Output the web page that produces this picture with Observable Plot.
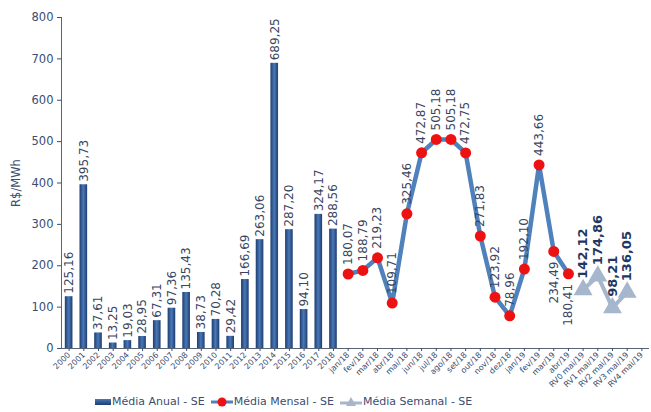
<!DOCTYPE html>
<html>
<head>
<meta charset="utf-8">
<script src="https://cdn.jsdelivr.net/npm/d3@7"></script>
<script src="https://cdn.jsdelivr.net/npm/@observablehq/plot@0.6"></script>
<style>
  body { margin: 0; background: #fff; font-family: "DejaVu Sans", sans-serif; }
  #wrap { position: relative; width: 651px; height: 412px; }
  #legend { position: absolute; left: 95px; top: 395px; display: flex; align-items: center; font-size: 11px; color: #3b4d70; white-space: nowrap; }
  .item { display: flex; align-items: center; margin-right: 6px; }
  .sw { margin-right: 1px; }
</style>
</head>
<body>
<div id="wrap">
  <div id="chart"></div>
  <div id="legend">
    <div class="item"><svg class="sw" width="16" height="10"><defs><linearGradient id="lg1" x1="0" y1="0" x2="0" y2="1"><stop offset="0" stop-color="#4a78b8"/><stop offset="1" stop-color="#1d3d6e"/></linearGradient></defs><rect x="0" y="2" width="16" height="6" fill="url(#lg1)"/></svg><span>Média Anual - SE</span></div>
    <div class="item"><svg class="sw" width="22" height="12"><line x1="0" y1="6" x2="22" y2="6" stroke="#4f81bd" stroke-width="3"/><circle cx="11" cy="6" r="4.5" fill="#ee1111"/></svg><span>Média Mensal - SE</span></div>
    <div class="item"><svg class="sw" width="22" height="12"><line x1="0" y1="7" x2="22" y2="7" stroke="#a6b6cc" stroke-width="3"/><path d="M11,1 L16,10 L6,10 Z" fill="#a6b6cc"/></svg><span>Média Semanal - SE</span></div>
  </div>
</div>
<script>
const years = ["2000","2001","2002","2003","2004","2005","2006","2007","2008","2009","2010","2011","2012","2013","2014","2015","2016","2017","2018"];
const annual = [125.16,395.73,37.61,13.25,19.03,28.95,67.31,97.36,135.43,38.73,70.28,29.42,166.69,263.06,689.25,287.20,94.10,324.17,288.56];
const months = ["jan/18","fev/18","mar/18","abr/18","mai/18","jun/18","jul/18","ago/18","set/18","out/18","nov/18","dez/18","jan/19","fev/19","mar/19","abr/19"];
const monthly = [180.07,188.79,219.23,109.71,325.46,472.87,505.18,505.18,472.75,271.83,123.92,78.96,192.10,443.66,234.49,180.41];
const weeks = ["RV0 mai/19","RV1 mai/19","RV2 mai/19","RV3 mai/19","RV4 mai/19"];
const weekly = [142.12,174.86,98.21,136.05,null];
const yTicks = [0,100,200,300,400,500,600,700,800];

const fmt = d3.formatLocale({decimal: ",", thousands: ".", grouping: [3], currency: ["R$", ""]}).format(".2f");

const annualData = years.map((c, i) => ({c, v: annual[i]}));
const monthlyData = months.map((c, i) => ({c, v: monthly[i], i}));
const weeklyData = weeks.map((c, i) => ({c, v: weekly[i]})).filter(d => d.v != null);
const domain = [...years, ...months, ...weeks];
const nM = monthlyData.length;
const monthAbove = monthlyData.filter(d => d.i < nM - 2);
const monthBelow = monthlyData.filter(d => d.i >= nM - 2);

const textColor = "#3b4d70";
const chart = Plot.plot({
  width: 651,
  height: 386,
  marginLeft: 61,
  marginRight: 2,
  marginTop: 17,
  marginBottom: 38,
  style: {fontFamily: "DejaVu Sans, sans-serif", color: textColor, background: "white", overflow: "visible"},
  x: {domain, paddingInner: 0.48, paddingOuter: 0.26, round: false, label: null},
  y: {domain: [0, 800], label: null},
  marks: [
    Plot.frame({anchor: "left", stroke: "#5a6478"}),
    Plot.ruleY([0], {stroke: "#5a6478"}),
    Plot.axisY({ticks: yTicks, tickSize: 4, tickPadding: 4, fontSize: 11.5, label: "R$/MWh", labelAnchor: "center", labelArrow: false, labelOffset: 50, tickFormat: d => d}),
    Plot.axisX({tickRotate: -45, fontSize: 8, tickSize: 3, tickPadding: 2, label: null}),
    Plot.barY(annualData, {x: "c", y: "v", fill: "url(#barGrad)"}),
    Plot.text(annualData, {x: "c", y: "v", text: d => fmt(d.v), rotate: -90, textAnchor: "start", dy: -3, fontSize: 12, fill: "#3a4660"}),
    Plot.line(monthlyData, {x: "c", y: "v", stroke: "#4f81bd", strokeWidth: 4.5, curve: "linear"}),
    Plot.dot(monthlyData, {x: "c", y: "v", fill: "#ee1111", r: 5.5}),
    Plot.text(monthAbove, {x: "c", y: "v", text: d => fmt(d.v), rotate: -90, textAnchor: "start", dy: -9, fontSize: 12, fill: "#3a4660"}),
    Plot.text(monthBelow, {x: "c", y: "v", text: d => fmt(d.v), rotate: -90, textAnchor: "end", dy: 10, fontSize: 12, fill: "#3a4660"}),
    Plot.line(weeklyData, {x: "c", y: "v", stroke: "#a6b6cc", strokeWidth: 4}),
    Plot.dot(weeklyData, {x: "c", y: "v", symbol: "triangle", fill: "#a6b6cc", r: 7}),
    Plot.text(weeklyData, {x: "c", y: "v", text: d => fmt(d.v), rotate: -90, textAnchor: "start", dy: -11, fontSize: 13, fontWeight: "bold", fill: "#1f3864"})
  ]
});

const defs = d3.select(chart).insert("defs", ":first-child");
const g = defs.append("linearGradient").attr("id", "barGrad").attr("x1", 0).attr("x2", 1).attr("y1", 0).attr("y2", 0);
g.append("stop").attr("offset", 0).attr("stop-color", "#1d3d6e");
g.append("stop").attr("offset", 0.5).attr("stop-color", "#4a78b8");
g.append("stop").attr("offset", 1).attr("stop-color", "#1d3d6e");

document.getElementById("chart").appendChild(chart);
</script>
</body>
</html>
